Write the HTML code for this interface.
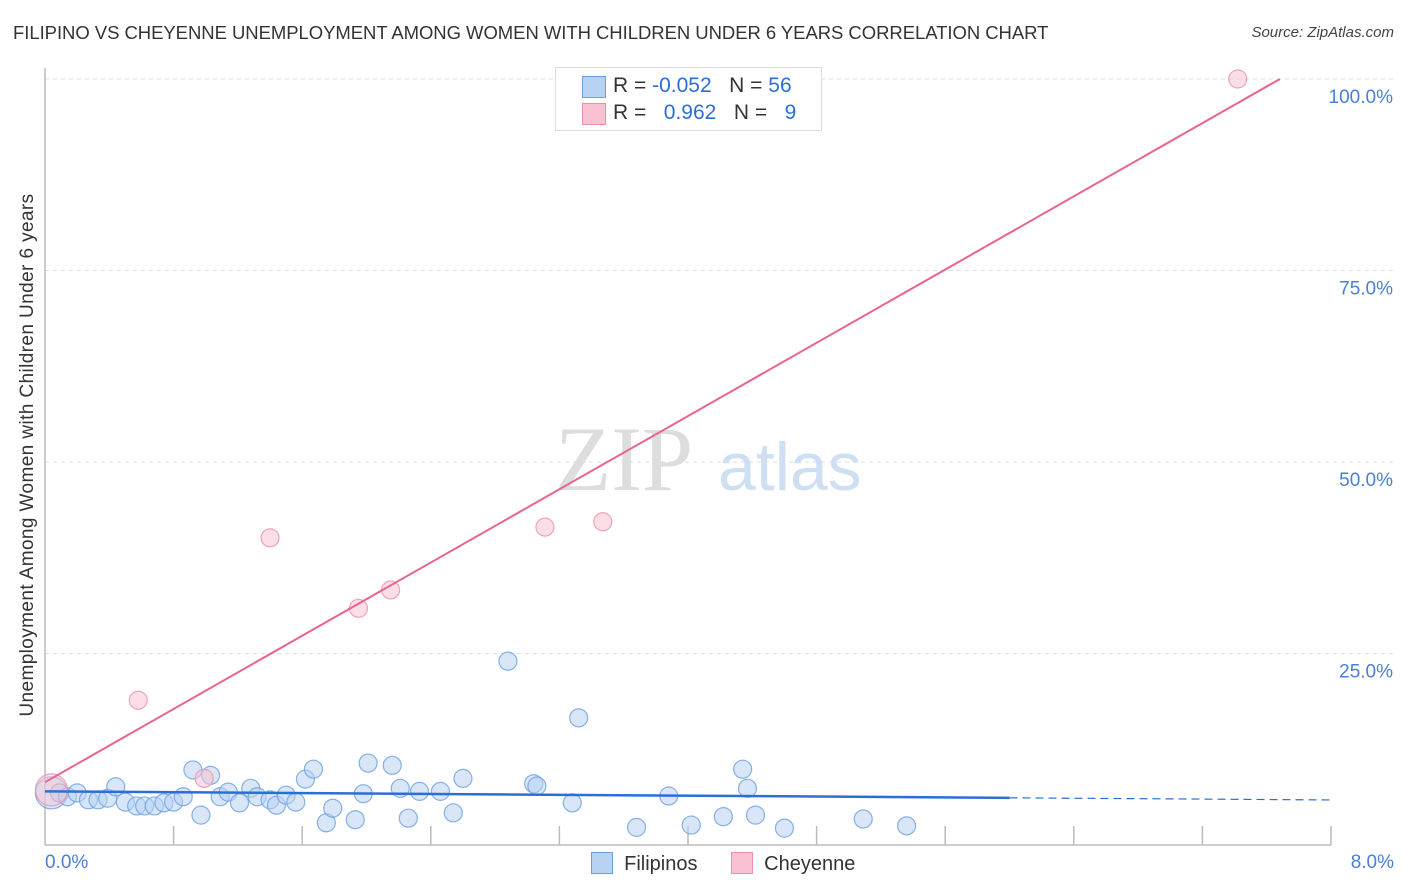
<!DOCTYPE html>
<html><head><meta charset="utf-8">
<style>
body{margin:0;background:#fff;font-family:"Liberation Sans",sans-serif;}
#wrap{position:relative;width:1406px;height:892px;overflow:hidden;}
.t{position:absolute;white-space:nowrap;}
</style></head>
<body>
<div id="wrap">
<div class="t" style="left:13px;top:22px;font-size:18.5px;color:#333;letter-spacing:-0.05px;">FILIPINO VS CHEYENNE UNEMPLOYMENT AMONG WOMEN WITH CHILDREN UNDER 6 YEARS CORRELATION CHART</div>
<div class="t" style="right:12px;top:24px;font-size:15px;color:#444;font-style:italic;">Source: ZipAtlas.com</div>
<svg id="svg" width="1406" height="892" style="position:absolute;left:0;top:0"></svg>
</div>
<script>
const bluex=[0.04,0.09,0.14,0.20,0.27,0.33,0.39,0.44,0.50,0.57,0.62,0.68,0.74,0.80,0.86,0.92,0.97,1.03,1.09,1.14,1.21,1.28,1.32,1.40,1.44,1.50,1.56,1.62,1.67,1.75,1.79,1.93,1.98,2.01,2.16,2.21,2.26,2.33,2.46,2.54,2.60,2.88,3.04,3.06,3.28,3.32,3.68,3.88,4.02,4.22,4.34,4.37,4.42,4.60,5.09,5.36];
const bluey=[6.8,6.8,6.3,6.8,5.9,5.9,6.1,7.6,5.6,5.1,5.1,5.1,5.5,5.6,6.3,9.8,3.9,9.1,6.3,6.9,5.5,7.4,6.3,5.9,5.2,6.5,5.6,8.6,9.9,2.9,4.8,3.3,6.7,10.7,10.4,7.4,3.5,7.0,7.0,4.2,8.7,24.0,8.0,7.7,5.5,16.6,2.3,6.4,2.6,3.7,9.9,7.4,3.9,2.2,3.4,2.5];
const pinkx=[0.04,0.58,0.99,1.40,1.95,2.15,3.11,3.47,7.42];
const pinky=[7.2,18.9,8.7,40.1,30.9,33.3,41.5,42.2,100];
const yTicks=[25,50,75,100];
const yTickLabels=["25.0%","50.0%","75.0%","100.0%"];
const xTicks=[0.8,1.6,2.4,3.2,4.0,4.8,5.6,6.4,7.2,8.0];
const blueTrend=[7.0,-0.14]; // intercept, slope
const pinkTrend=[8.2,11.95];

const X=v=>45+v/8*1286, Y=v=>845-v*7.66;
const svg=document.getElementById('svg');const NS='http://www.w3.org/2000/svg';
function el(t,a,p){const e=document.createElementNS(NS,t);for(const k in a)e.setAttribute(k,a[k]);(p||svg).appendChild(e);return e;}

yTicks.forEach((v,i)=>{
 const g=el('line',{x1:45,x2:1395,y1:Y(v),y2:Y(v),stroke:'#ddd','stroke-dasharray':'4,4'});
 
 
 const t=el('text',{x:1393,y:Y(v)+24,'text-anchor':'end','font-size':19,fill:'#4a7fd6'});t.textContent=yTickLabels[i];
 
 
});
const ax=el('line',{x1:45,x2:1331,y1:845,y2:845,stroke:'#bbb','stroke-width':1.5});


const ay=el('line',{x1:45,x2:45,y1:68,y2:845,stroke:'#bbb','stroke-width':1.5});


xTicks.forEach(v=>{const t=el('line',{x1:X(v),x2:X(v),y1:826,y2:845,stroke:'#bbb','stroke-width':1.5});
 
 });
const wm=el('text',{x:555,y:490,'font-size':92,fill:'#ddd','font-family':'Liberation Serif, serif'});wm.textContent='ZIP';


const wm2=el('text',{x:718,y:490,'font-size':68,fill:'#cfdff3'});wm2.textContent='atlas';



function pts(xs,ys,fill,stroke,name){xs.forEach((x,i)=>{
 const c=el('circle',{cx:X(x),cy:Y(ys[i]),r:(i==0?16:9),fill:fill,'fill-opacity':i==0?0.5:0.55,stroke:stroke,'stroke-width':1.2,'stroke-opacity':0.8});
 
 });}
pts(bluex,bluey,'#b8d2f3','#6b9fe0','filipino-point');
pts(pinkx,pinky,'#f8c2d2','#ee8fab','cheyenne-point');

const bt=el('line',{x1:X(0),y1:Y(blueTrend[0]),x2:X(6),y2:Y(blueTrend[0]+6*blueTrend[1]),stroke:'#2b6fd6','stroke-width':2.5});


const bd=el('line',{x1:X(6),y1:Y(blueTrend[0]+6*blueTrend[1]),x2:X(8),y2:Y(blueTrend[0]+8*blueTrend[1]),stroke:'#2b6fd6','stroke-width':1.2,'stroke-dasharray':'8,5'});


const xe=(100-pinkTrend[0])/pinkTrend[1];
const pt=el('line',{x1:X(0),y1:Y(pinkTrend[0]),x2:X(xe),y2:Y(100),stroke:'#e8648e','stroke-width':2});


</script>
<div class="t" style="left:28px;top:455px;font-size:19px;letter-spacing:0.4px;color:#333;transform:translate(-50%,-50%) rotate(-90deg);">Unemployment Among Women with Children Under 6 years</div>
<div class="t" style="left:45px;top:852px;font-size:19px;color:#4a7fd6;">0.0%</div>
<div class="t" style="right:12px;top:852px;font-size:19px;color:#4a7fd6;">8.0%</div>
<div style="position:absolute;left:555px;top:67px;width:265px;height:62px;border:1px solid #ddd;background:#fff;font-size:21px;">
 <div style="position:absolute;left:26px;top:8px;width:22px;height:20px;background:#b8d2f3;border:1px solid #6b9fe0;"></div>
 <div class="t" style="left:57px;top:6px;color:#333;">R = <span style="color:#2b6fd6">-0.052</span>&nbsp;&nbsp;&nbsp;N = <span style="color:#2b6fd6">56</span></div>
 <div style="position:absolute;left:26px;top:35px;width:22px;height:20px;background:#f8c2d2;border:1px solid #ee8fab;"></div>
 <div class="t" style="left:57px;top:33px;color:#333;">R = &nbsp;&nbsp;<span style="color:#2b6fd6">0.962</span>&nbsp;&nbsp;&nbsp;N = &nbsp;&nbsp;<span style="color:#2b6fd6">9</span></div>
</div>
<div style="position:absolute;left:591px;top:852px;font-size:20px;color:#333;">
 <span style="display:inline-block;width:20px;height:20px;background:#b8d2f3;border:1px solid #6b9fe0;vertical-align:-4px;"></span>&nbsp; Filipinos
 <span style="display:inline-block;width:20px;height:20px;background:#f8c2d2;border:1px solid #ee8fab;vertical-align:-4px;margin-left:28px;"></span>&nbsp; Cheyenne
</div>
</body></html>
